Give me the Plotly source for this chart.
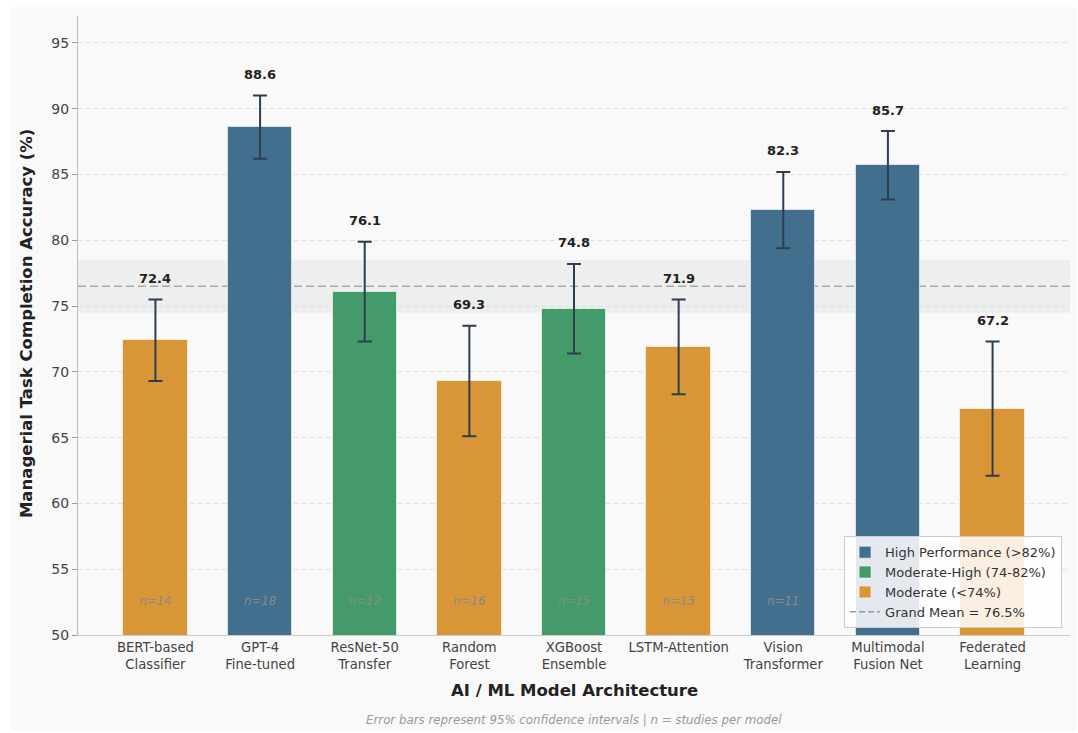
import plotly.graph_objects as go

categories = ["BERT-based<br>Classifier", "GPT-4<br>Fine-tuned", "ResNet-50<br>Transfer",
              "Random<br>Forest", "XGBoost<br>Ensemble", "LSTM-Attention",
              "Vision<br>Transformer", "Multimodal<br>Fusion Net", "Federated<br>Learning"]
accuracy = [72.4, 88.6, 76.1, 69.3, 74.8, 71.9, 82.3, 85.7, 67.2]
ci95 = [3.1, 2.4, 3.8, 4.2, 3.4, 3.6, 2.9, 2.6, 5.1]
# n for the last two bars is hidden behind the legend in the reference
n_studies = [14, 18, 12, 16, 15, 13, 11, None, None]
tiers = ["Moderate", "High", "Moderate-High", "Moderate", "Moderate-High", "Moderate",
         "High", "High", "Moderate"]
grand_mean = 76.5
band_half = 2.0

tier_names = {"High": "High Performance (>82%)",
              "Moderate-High": "Moderate-High (74-82%)",
              "Moderate": "Moderate (<74%)"}
tier_colors = {"High": "#436f8e", "Moderate-High": "#459a6a", "Moderate": "#d99636"}

xs = list(range(len(categories)))
fig = go.Figure()

for tier in ["High", "Moderate-High", "Moderate"]:
    idx = [i for i, t in enumerate(tiers) if t == tier]
    fig.add_trace(go.Bar(
        x=[xs[i] for i in idx], y=[accuracy[i] for i in idx],
        width=0.615, name=tier_names[tier],
        marker=dict(color=tier_colors[tier], line=dict(color="rgba(255,255,255,0.6)", width=1)),
        error_y=dict(type="data", array=[ci95[i] for i in idx], color="#2c3e50",
                     thickness=2, width=7),
    ))

fig.add_trace(go.Scatter(x=[None], y=[None], mode="lines", name=f"Grand Mean = {grand_mean}%",
                         line=dict(color="#999999", dash="6px,3px", width=1.5)))

# n labels
n_idx = [i for i, n in enumerate(n_studies) if n is not None]
fig.add_trace(go.Scatter(x=[xs[i] for i in n_idx], y=[52.5] * len(n_idx), mode="text",
                         text=[f"n={n_studies[i]}" for i in n_idx], showlegend=False,
                         hoverinfo="skip",
                         textfont=dict(family="DejaVu Sans", size=11.7, color="#8a8a8a",
                                       style="italic")))

# value labels
for i, (v, c) in enumerate(zip(accuracy, ci95)):
    fig.add_annotation(x=xs[i], y=v + c, text=f"<b>{v}</b>", showarrow=False,
                       yanchor="middle", yshift=21,
                       font=dict(family="DejaVu Sans", size=13, color="#222222"))

# background panel
fig.add_shape(type="rect", xref="paper", yref="paper", x0=-0.0685, x1=1.0071, y0=-0.155, y1=1.0145,
              fillcolor="#f9f9f9", line=dict(width=0), layer="below")
# mean band and line
fig.add_shape(type="rect", xref="paper", yref="y", x0=0, x1=1,
              y0=grand_mean - band_half, y1=grand_mean + band_half,
              fillcolor="rgba(200,210,205,0.25)", line=dict(width=0), layer="between")
fig.add_shape(type="line", xref="paper", yref="y", x0=0, x1=1, y0=grand_mean, y1=grand_mean,
              line=dict(color="#a8a8a8", width=1.5, dash="8px,4px"), layer="between")

# axis titles and footnote
fig.add_annotation(xref="paper", yref="paper", x=0.5, y=-0.0895, yanchor="middle",
                   text="<b>AI / ML Model Architecture</b>", showarrow=False,
                   font=dict(family="DejaVu Sans", size=16.5, color="#222222"))
fig.add_annotation(xref="paper", yref="paper", x=-0.052, y=0.503, textangle=-90,
                   xanchor="center", yanchor="middle",
                   text="<b>Managerial Task Completion Accuracy (%)</b>", showarrow=False,
                   font=dict(family="DejaVu Sans", size=16.5, color="#222222"))
fig.add_annotation(xref="paper", yref="paper", x=0.5, y=-0.137, yanchor="middle",
                   text="<i>Error bars represent 95% confidence intervals | n = studies per model</i>",
                   showarrow=False, font=dict(family="DejaVu Sans", size=11.8, color="#9a9a9a"))

fig.update_layout(
    width=1078, height=733,
    margin=dict(l=78, r=8, t=16, b=98),
    paper_bgcolor="white", plot_bgcolor="rgba(0,0,0,0)",
    barmode="overlay", bargap=0,
    font=dict(family="DejaVu Sans", color="#333333"),
    legend=dict(x=0.992, y=0.011, xanchor="right", yanchor="bottom",
                bgcolor="rgba(255,255,255,0.85)", bordercolor="#cccccc", borderwidth=1,
                font=dict(family="DejaVu Sans", size=13, color="#333333"),
                tracegroupgap=0, itemwidth=30),
    xaxis=dict(range=[-0.74, 8.74], tickvals=xs, ticktext=categories, showgrid=False,
               zeroline=False, showline=True, linecolor="#cccccc", linewidth=1, ticks="",
               tickfont=dict(family="DejaVu Sans", size=13.2, color="#444444")),
    yaxis=dict(range=[50, 97.05], tickvals=[50, 55, 60, 65, 70, 75, 80, 85, 90, 95],
               showgrid=True, gridcolor="#e0e0e0", griddash="5px,3px", gridwidth=1,
               zeroline=False, showline=True, linecolor="#bbbbbb", linewidth=1,
               ticks="outside", ticklen=5, tickcolor="#999999",
               tickfont=dict(family="DejaVu Sans", size=14, color="#444444")),
)

fig.write_html("out.html")
